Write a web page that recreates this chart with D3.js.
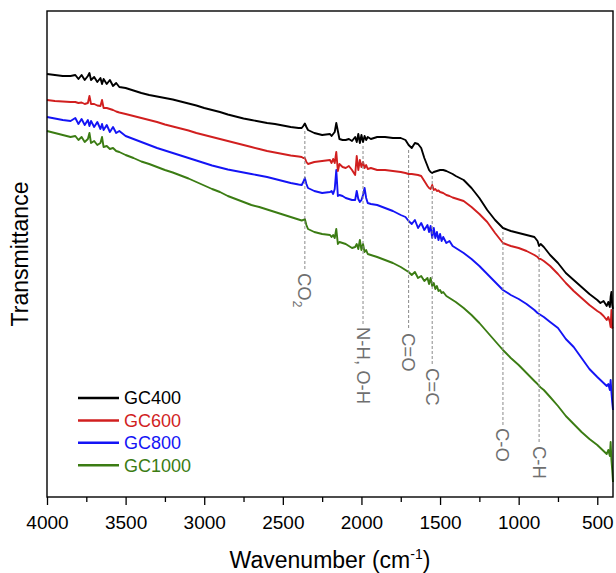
<!DOCTYPE html>
<html>
<head>
<meta charset="utf-8">
<script src="https://cdn.jsdelivr.net/npm/d3@7"></script>
<style>
  body { margin: 0; background: #fff; }
  svg text { font-family: "Liberation Sans", Arial, sans-serif; }
</style>
</head>
<body>
<div id="chart"></div>
<script>
// wavenumber grid (cm-1), shared by all four spectra
const wavenumbers = [4000, 3950, 3900, 3850, 3820, 3800, 3780, 3760, 3740, 3730, 3720, 3700, 3680, 3660, 3650, 3640, 3620, 3600, 3580, 3560, 3540,
  3500, 3450, 3400, 3350, 3300, 3250, 3200, 3150, 3100, 3050, 3000, 2950, 2900, 2850, 2800, 2750, 2700, 2650, 2600, 2550, 2500, 2450, 2400,
  2380, 2370, 2360, 2350, 2340, 2300, 2250, 2200, 2190, 2180, 2170, 2160, 2150, 2140, 2120, 2100, 2080, 2060, 2040, 2030, 2020, 2010, 2000,
  1990, 1980, 1970, 1960, 1940, 1900, 1850, 1800, 1750, 1720, 1700, 1680, 1660, 1640, 1620, 1600, 1580, 1570, 1560, 1550, 1540, 1530, 1520,
  1510, 1500, 1490, 1480, 1460, 1440, 1420, 1400, 1350, 1300, 1250, 1200, 1150, 1100, 1050, 1000, 950, 900, 880, 870, 860, 840, 800, 750,
  700, 650, 600, 550, 500, 480, 460, 440, 430, 420, 415, 410, 405, 400];

// transmittance, arbitrary units
const gc400 = [423, 422, 421, 421, 422, 418, 422, 417, 421, 424, 417, 420, 415, 419, 413, 418, 413, 417, 411, 414, 410,
  409, 406.5, 404, 402, 400.5, 399, 397.5, 395.5, 393.5, 391.5, 389, 387, 385, 382.5, 380.5, 378.5, 377, 375.5, 374, 373, 371.5, 370, 369,
  369, 371, 373.5, 370, 367, 364, 362, 363, 361, 363, 365, 374, 366, 358, 357, 357, 358, 356, 360, 355, 363, 354, 362,
  355, 361, 357, 360, 358, 360, 360, 359, 359, 357, 352, 349, 354, 353, 349, 339, 331, 327, 325, 324, 325, 325.5, 326,
  326.5, 327, 327, 327, 326, 324.5, 323, 321, 317, 309, 299, 287, 277, 269, 266, 264, 262, 260, 256, 251, 253, 250, 242, 234,
  224, 217, 210, 203, 197, 194, 196, 191, 195, 190, 200, 205, 192, 188];

const gc600 = [397, 396, 395.5, 395, 395, 394, 394.5, 393, 394, 401, 393, 393, 391.5, 391, 397, 389, 389, 388, 387, 385.5, 384.5,
  383, 381, 379, 377, 375, 372.5, 370.5, 368.5, 366.5, 364, 362, 360, 358, 356, 354, 352, 350, 348, 346, 344.5, 343, 341.5, 340.5,
  340, 339, 339, 335, 333, 335, 336, 337, 334, 338, 334, 345, 326, 333, 330, 329, 331, 327, 322, 341, 327, 337, 330,
  335, 329, 332, 328, 329, 327, 327, 326, 325, 324, 323, 323, 322.5, 322, 321, 316, 311, 309, 308, 312, 307, 308, 306,
  306.5, 305, 304.5, 304, 302, 301, 299.5, 298.5, 296, 290, 283, 275, 264, 254, 251, 249, 246, 242, 240, 238, 238, 236, 231, 223,
  214, 206, 199, 192, 186, 184, 181, 177, 180, 175, 170, 187, 169, 170];

const gc800 = [380, 378.5, 377, 376, 379, 373, 378, 372, 377, 371, 376, 370, 375, 368, 373, 367, 372, 365, 370, 364, 366,
  361, 358, 355, 352, 349, 346.5, 344, 341.5, 339, 336.5, 334, 331.5, 329.5, 327.5, 326, 324.5, 323, 321.5, 320, 318, 316, 314, 312.5,
  312, 315, 319, 313, 309, 306, 304, 305, 306, 303, 308, 327, 301, 302, 301, 299, 298, 297, 297, 306, 298, 295, 297,
  302, 309, 299, 294, 293, 292, 289, 286, 282, 280, 276, 273, 277, 269, 274, 267, 272, 265, 271, 259, 269, 259, 265,
  257, 263, 256, 260, 254, 256, 251, 249, 244, 238, 231, 223, 215, 207, 202, 198, 193, 187, 184, 183, 182, 180, 175, 169,
  158, 150, 139, 128, 120, 117, 114, 111, 113, 107, 117, 105, 95, 87];

const gc1000 = [366, 364, 362, 360, 361, 357, 360, 355, 358, 364, 354, 356, 352, 354, 360, 350, 351, 348, 349, 346, 345,
  342, 339, 335.5, 333, 330, 327, 324.5, 321.5, 318.5, 315, 311.5, 308, 305, 301, 298, 295, 292, 290, 287.5, 285, 282.5, 280, 277.5,
  276.5, 277, 278, 272, 268, 265, 263, 262, 260, 262, 259, 268, 253, 255, 254, 253, 251, 249, 250, 253, 248, 257, 247,
  253, 245, 247, 243, 242, 240, 237, 234, 230, 227, 225, 222, 225, 219, 221, 216, 219, 213, 219, 211, 214, 208, 211,
  206, 207, 204, 205, 201, 199, 197, 195, 189, 182, 174, 165, 156, 147, 139, 132, 124, 116, 113, 111, 109.5, 107, 100, 91,
  81, 73, 65, 58, 52, 49, 46, 43, 47, 41, 55, 37, 27, 15];

const seriesNames = ["GC400", "GC600", "GC800", "GC1000"];
const seriesValues = [gc400, gc600, gc800, gc1000];
const seriesColors = ["#000000", "#d11f1f", "#1414f5", "#3b7c13"];

// band assignments: position, label, dashed line top and bottom (a.u.)
const peakPositions = [2360, 1990, 1700, 1550, 1100, 870];
const peakLabels = ["CO2", "N-H, O-H", "C=O", "C=C", "C-O", "C-H"];
const peakLineTop = [366, 351, 347, 321, 265, 248];
const peakLineBottom = [227, 173, 167, 132, 72, 54];

const xTicks = [4000, 3500, 3000, 2500, 2000, 1500, 1000, 500];
const xMinorTicks = [3750, 3250, 2750, 2250, 1750, 1250, 750];

// layout
const W = 616, H = 573;
const margin = { top: 11, right: 3, bottom: 76, left: 47 };
const innerW = W - margin.left - margin.right;
const innerH = H - margin.top - margin.bottom;

const svg = d3
  .select("#chart")
  .append("svg")
  .attr("width", W)
  .attr("height", H);

const g = svg.append("g").attr("transform", `translate(${margin.left},${margin.top})`);

const x = d3.scaleLinear().domain([4000, 400]).range([0, innerW]);
const y = d3.scaleLinear().domain([0, 486]).range([innerH, 0]);

// spectra
const line = d3
  .line()
  .x((d) => x(d[0]))
  .y((d) => y(d[1]));

// draw bottom-up so black is on top
for (let s = seriesValues.length - 1; s >= 0; s--) {
  const pts = wavenumbers.map((w, i) => [w, seriesValues[s][i]]);
  g.append("path")
    .datum(pts)
    .attr("fill", "none")
    .attr("stroke", seriesColors[s])
    .attr("stroke-width", 1.9)
    .attr("stroke-linejoin", "round")
    .attr("d", line);
}

// dashed band markers + rotated labels
peakPositions.forEach((p, i) => {
  g.append("line")
    .attr("x1", x(p))
    .attr("x2", x(p))
    .attr("y1", y(peakLineTop[i]))
    .attr("y2", y(peakLineBottom[i]))
    .attr("stroke", "#8a8a8a")
    .attr("stroke-width", 1)
    .attr("stroke-dasharray", "3,2");

  const t = g
    .append("text")
    .attr("transform", `translate(${x(p)},${y(peakLineBottom[i]) + 3}) rotate(90)`)
    .attr("dy", "0.35em")
    .attr("fill", "#6f6f6f")
    .style("font-size", "18.5px");
  if (peakLabels[i] === "CO2") {
    t.append("tspan").text("CO");
    t.append("tspan").text("2").style("font-size", "12px").attr("dy", "5");
  } else {
    t.text(peakLabels[i]);
  }
});

// frame
g.append("rect")
  .attr("width", innerW)
  .attr("height", innerH)
  .attr("fill", "none")
  .attr("stroke", "#000")
  .attr("stroke-width", 1.4);

// x axis
const xAxis = g
  .append("g")
  .attr("transform", `translate(0,${innerH})`)
  .call(
    d3.axisBottom(x)
      .tickValues(xTicks)
      .tickFormat(d3.format("d"))
      .tickSize(8)
      .tickSizeOuter(0)
      .tickPadding(11)
  );
xAxis.select(".domain").remove();
xAxis.selectAll(".tick line").attr("stroke-width", 1.3);
xAxis.selectAll(".tick text").style("font-size", "19px").attr("fill", "#000");

const xMinor = g
  .append("g")
  .attr("transform", `translate(0,${innerH})`)
  .call(d3.axisBottom(x).tickValues(xMinorTicks).tickSize(5).tickSizeOuter(0).tickFormat(""));
xMinor.select(".domain").remove();
xMinor.selectAll(".tick line").attr("stroke-width", 1.3);

// axis titles
const xTitle = svg
  .append("text")
  .attr("x", margin.left + innerW / 2)
  .attr("y", 568)
  .attr("text-anchor", "middle")
  .style("font-size", "23px");
xTitle.append("tspan").text("Wavenumber (cm");
xTitle.append("tspan").text("-1").style("font-size", "14px").attr("dy", "-9");
xTitle.append("tspan").text(")").attr("dy", "9");

svg
  .append("text")
  .attr("transform", `translate(27.5,${margin.top + innerH / 2}) rotate(-90)`)
  .attr("text-anchor", "middle")
  .style("font-size", "23px")
  .text("Transmittance");

// legend
const legend = svg.append("g").attr("transform", "translate(78,398)");
seriesNames.forEach((name, i) => {
  const row = legend.append("g").attr("transform", `translate(0,${i * 22.4})`);
  row.append("line")
    .attr("x1", 0)
    .attr("x2", 41)
    .attr("stroke", seriesColors[i])
    .attr("stroke-width", 2.5);
  row.append("text")
    .attr("x", 46)
    .attr("dy", "0.35em")
    .attr("fill", seriesColors[i])
    .style("font-size", "18px")
    .text(name);
});
</script>
</body>
</html>
